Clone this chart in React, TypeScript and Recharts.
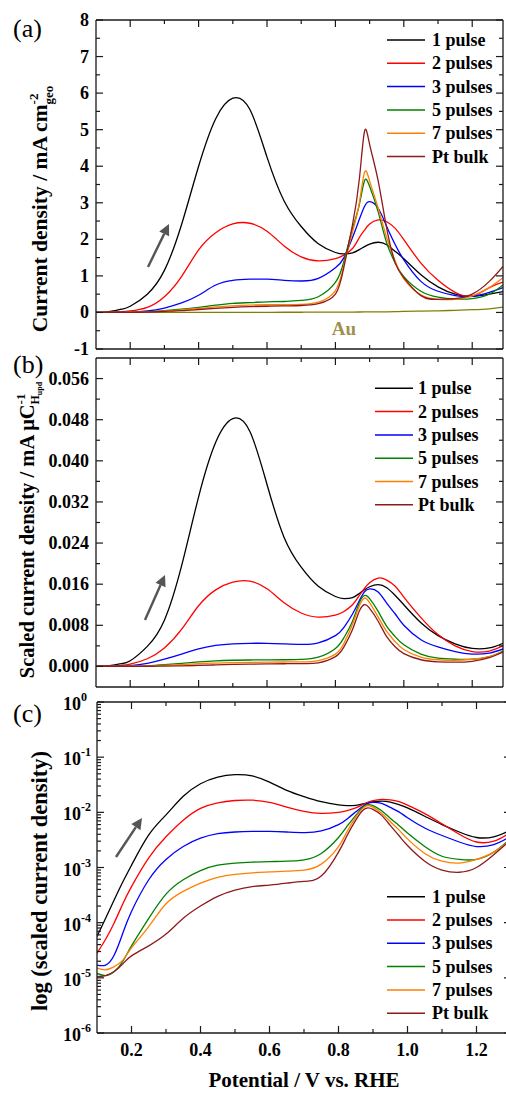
import React from 'react';
import { LineChart, Line, XAxis, YAxis } from 'recharts';

// ---------- data ----------
const potential = [0.10, 0.125, 0.15, 0.175, 0.20, 0.25, 0.30, 0.35, 0.40, 0.45, 0.50, 0.55, 0.60, 0.65, 0.70, 0.75, 0.80, 0.825, 0.85, 0.87, 0.885, 0.90, 0.925, 0.95, 0.975, 1.00, 1.05, 1.10, 1.15, 1.20, 1.25, 1.29];

const seriesNames = ['1 pulse', '2 pulses', '3 pulses', '5 pulses', '7 pulses', 'Pt bulk'];
const seriesColors = ['#000000', '#FF0000', '#0000FF', '#008000', '#FF8000', '#8E1B1B'];

// (a) current density / mA cm-2 geo
const geo1 = [0, 0.01, 0.04, 0.09, 0.17, 0.5, 1.15, 2.4, 4.0, 5.3, 5.86, 5.55, 4.25, 3.05, 2.35, 1.88, 1.64, 1.6, 1.63, 1.72, 1.8, 1.87, 1.92, 1.85, 1.67, 1.47, 1.03, 0.70, 0.50, 0.44, 0.50, 0.57];
const geo2 = [0, 0.003, 0.01, 0.02, 0.04, 0.14, 0.43, 0.98, 1.71, 2.18, 2.42, 2.44, 2.22, 1.82, 1.52, 1.41, 1.47, 1.57, 1.75, 2.05, 2.25, 2.42, 2.53, 2.48, 2.3, 1.99, 1.35, 0.88, 0.55, 0.45, 0.68, 0.83];
const geo3 = [0, 0, 0.003, 0.006, 0.01, 0.04, 0.12, 0.26, 0.47, 0.75, 0.88, 0.91, 0.91, 0.88, 0.86, 0.93, 1.22, 1.5, 2.05, 2.55, 2.9, 3.03, 2.85, 2.35, 1.85, 1.44, 0.85, 0.58, 0.46, 0.44, 0.55, 0.68];
const geo5 = [0, 0, 0, 0.003, 0.006, 0.02, 0.05, 0.09, 0.14, 0.2, 0.25, 0.27, 0.29, 0.3, 0.33, 0.43, 0.82, 1.4, 2.3, 2.95, 3.6, 3.45, 2.75, 1.9, 1.35, 0.98, 0.58, 0.42, 0.37, 0.38, 0.5, 0.75];
const geo7 = [0, 0, 0, 0.002, 0.005, 0.015, 0.04, 0.07, 0.11, 0.15, 0.18, 0.2, 0.21, 0.21, 0.22, 0.28, 0.6, 1.3, 2.2, 3.0, 3.83, 3.6, 2.85, 2.05, 1.4, 0.92, 0.48, 0.36, 0.36, 0.45, 0.68, 0.95];
const geoPt = [0, 0, 0, 0.002, 0.004, 0.012, 0.03, 0.05, 0.08, 0.11, 0.14, 0.16, 0.17, 0.18, 0.19, 0.24, 0.5, 1.25, 2.4, 3.65, 4.95, 4.6, 3.6, 2.3, 1.35, 0.95, 0.46, 0.36, 0.38, 0.5, 0.85, 1.26];
const geoAu = [0, 0, 0, 0, 0, 0, 0, 0, 0, 0, 0.002, 0.003, 0.004, 0.005, 0.006, 0.007, 0.009, 0.01, 0.011, 0.012, 0.013, 0.014, 0.016, 0.018, 0.022, 0.03, 0.036, 0.045, 0.058, 0.075, 0.1, 0.145];

// (b), (c) scaled current density / mA uC-1 H_upd
const sc1 = [5.6e-5, 1.2e-4, 2.6e-4, 5.5e-4, 1.1e-3, 3.9e-3, 9.0e-3, 0.0195, 0.0330, 0.0436, 0.0482, 0.0457, 0.0354, 0.0251, 0.0193, 0.0156, 0.0136, 0.0132, 0.0134, 0.0142, 0.0149, 0.0155, 0.0159, 0.0153, 0.0138, 0.012, 0.0085, 0.006, 0.0044, 0.0035, 0.0036, 0.0045];
const sc2 = [2.8e-5, 5e-5, 1.0e-4, 2.2e-4, 4.5e-4, 1.5e-3, 3.6e-3, 7.2e-3, 0.0118, 0.0149, 0.0164, 0.0166, 0.0151, 0.0124, 0.0104, 0.0096, 0.0100, 0.0107, 0.0120, 0.0138, 0.0152, 0.0163, 0.0172, 0.0168, 0.0156, 0.0135, 0.0095, 0.0062, 0.0040, 0.0029, 0.0030, 0.0040];
const sc3 = [1.7e-5, 1.7e-5, 2.6e-5, 6.5e-5, 1.6e-4, 6e-4, 1.4e-3, 2.4e-3, 3.4e-3, 4.1e-3, 4.4e-3, 4.5e-3, 4.5e-3, 4.4e-3, 4.3e-3, 4.6e-3, 6.0e-3, 7.6e-3, 0.0102, 0.0128, 0.0145, 0.0151, 0.0145, 0.0123, 0.0102, 0.0080, 0.0052, 0.0038, 0.0029, 0.0024, 0.0026, 0.0034];
const sc5 = [1.2e-5, 1.1e-5, 1.3e-5, 2.0e-5, 3.8e-5, 1.2e-4, 3.3e-4, 6.0e-4, 8.8e-4, 1.1e-3, 1.2e-3, 1.25e-3, 1.28e-3, 1.3e-3, 1.38e-3, 1.8e-3, 3.5e-3, 5.6e-3, 8.8e-3, 0.0124, 0.0138, 0.0132, 0.0107, 0.0078, 0.0058, 0.0042, 0.0024, 0.0016, 0.0014, 0.0014, 0.0019, 0.0030];
const sc7 = [1.5e-5, 1.4e-5, 1.6e-5, 2.1e-5, 3.5e-5, 8.5e-5, 2.2e-4, 3.7e-4, 5.2e-4, 6.6e-4, 7.5e-4, 8.0e-4, 8.3e-4, 8.6e-4, 9.0e-4, 1.15e-3, 2.4e-3, 4.5e-3, 8.2e-3, 0.0118, 0.0133, 0.0124, 0.0096, 0.0068, 0.0048, 0.0033, 0.0018, 0.0013, 0.0012, 0.0014, 0.0019, 0.0029];
const scPt = [1.05e-5, 1.1e-5, 1.3e-5, 1.8e-5, 2.5e-5, 3.8e-5, 6.2e-5, 1.2e-4, 2.0e-4, 3.0e-4, 3.9e-4, 4.5e-4, 4.8e-4, 5.2e-4, 5.6e-4, 7.0e-4, 1.9e-3, 3.8e-3, 7.2e-3, 0.0108, 0.012, 0.0113, 0.0088, 0.0058, 0.0038, 0.0025, 0.0013, 0.0009, 0.00082, 0.001, 0.0017, 0.0028];

// ticks
const xMajor = [0.2, 0.4, 0.6, 0.8, 1.0, 1.2];
const xMinor = [0.3, 0.5, 0.7, 0.9, 1.1];
const aMajor = [-1, 0, 1, 2, 3, 4, 5, 6, 7, 8];
const aMinor = [-0.5, 0.5, 1.5, 2.5, 3.5, 4.5, 5.5, 6.5, 7.5];
const bMajor = [0, 0.008, 0.016, 0.024, 0.032, 0.040, 0.048, 0.056];
const bMinor = [0.004, 0.012, 0.020, 0.028, 0.036, 0.044, 0.052];
const cExponents = [0, -1, -2, -3, -4, -5, -6];
const cMinorFactors = [2, 3, 4, 5, 6, 7, 8, 9];

// ---------- helpers ----------
const FONT = '"Liberation Serif", "Times New Roman", serif';
const AX = '#1a1a1a';
const CURVE = 'natural' as const;

const geoRows = potential.map((x, i) => ({ x, s0: geo1[i], s1: geo2[i], s2: geo3[i], s3: geo5[i], s4: geo7[i], s5: geoPt[i], au: geoAu[i] }));
const scRows = potential.map((x, i) => ({ x, s0: sc1[i], s1: sc2[i], s2: sc3[i], s3: sc5[i], s4: sc7[i], s5: scPt[i] }));

const xTicks = [...xMajor, ...xMinor].sort((a, b) => a - b);
const aTicks = [...aMajor, ...aMinor].sort((a, b) => a - b);
const bTicks = [...bMajor, ...bMinor].sort((a, b) => a - b);
const cMajor = cExponents.map((e) => Math.pow(10, e));
const cMinor: number[] = [];
cExponents.forEach((e) => { if (e < 0) cMinorFactors.forEach((f) => cMinor.push(f * Math.pow(10, e))); });
const cTicks = [...cMajor, ...cMinor].sort((a, b) => a - b);

const isIn = (arr: number[], v: number) => arr.some((m) => Math.abs(m - v) <= Math.abs(m) * 1e-6 + 1e-12);

const tickText = { fontFamily: FONT, fontWeight: 'bold' as const, fontSize: 18, fill: '#000' };

const bottomTick = (showLabel: boolean) => (p: any) => {
  const v = p.payload.value;
  const major = isIn(xMajor, v);
  return (
    <g>
      <line x1={p.x} y1={p.y} x2={p.x} y2={p.y - (major ? 7 : 4)} stroke={AX} strokeWidth={1.2} />
      {showLabel && major ? (
        <text x={p.x} y={p.y + 23} textAnchor="middle" {...tickText}>{v.toFixed(1)}</text>
      ) : null}
    </g>
  );
};
const topTick = (p: any) => {
  const major = isIn(xMajor, p.payload.value);
  return <line x1={p.x} y1={p.y} x2={p.x} y2={p.y + (major ? 7 : 4)} stroke={AX} strokeWidth={1.2} />;
};
const leftTick = (majors: number[], fmt: (v: number) => string) => (p: any) => {
  const v = p.payload.value;
  const major = isIn(majors, v);
  return (
    <g>
      <line x1={p.x} y1={p.y} x2={p.x + (major ? 7 : 4)} y2={p.y} stroke={AX} strokeWidth={1.2} />
      {major ? <text x={p.x - 7} y={p.y + 6} textAnchor="end" {...tickText}>{fmt(v)}</text> : null}
    </g>
  );
};
const rightTick = (majors: number[]) => (p: any) => {
  const major = isIn(majors, p.payload.value);
  return <line x1={p.x} y1={p.y} x2={p.x - (major ? 7 : 4)} y2={p.y} stroke={AX} strokeWidth={1.2} />;
};
const logLeftTick = (p: any) => {
  const v = p.payload.value;
  const major = isIn(cMajor, v);
  const e = Math.round(Math.log10(v));
  return (
    <g>
      <line x1={p.x} y1={p.y} x2={p.x + (major ? 7 : 4)} y2={p.y} stroke={AX} strokeWidth={1.2} />
      {major ? (
        <text x={63} y={p.y + 8} textAnchor="start" {...tickText}>
          10<tspan dy={-9} fontSize={12}>{String(e)}</tspan>
        </text>
      ) : null}
    </g>
  );
};

const axisLine = { stroke: AX, strokeWidth: 1.3 };

function seriesLines(withAu: boolean) {
  const lines = seriesNames.map((n, i) => (
    <Line key={n} name={n} dataKey={'s' + i} type={CURVE} stroke={seriesColors[i]} strokeWidth={1.3} dot={false} activeDot={false} isAnimationActive={false} />
  ));
  if (withAu) {
    lines.unshift(<Line key="au" name="Au" dataKey="au" type={CURVE} stroke="#808000" strokeWidth={1.3} dot={false} activeDot={false} isAnimationActive={false} />);
  }
  return lines;
}

function Legend({ x1, x2, tx, y0 }: { x1: number; x2: number; tx: number; y0: number }) {
  return (
    <g>
      {seriesNames.map((n, i) => {
        const y = y0 + i * 23.3;
        return (
          <g key={n}>
            <line x1={x1} y1={y} x2={x2} y2={y} stroke={seriesColors[i]} strokeWidth={1.5} />
            <text x={tx} y={y + 6} fontFamily={FONT} fontWeight="bold" fontSize={18} fill="#000">{n}</text>
          </g>
        );
      })}
    </g>
  );
}

function Arrow({ x1, y1, x2, y2 }: { x1: number; y1: number; x2: number; y2: number }) {
  const dx = x2 - x1, dy = y2 - y1;
  const len = Math.sqrt(dx * dx + dy * dy);
  const ux = dx / len, uy = dy / len;
  const hl = 11, hw = 5.5;
  const bx = x2 - ux * hl, by = y2 - uy * hl;
  const pts = `${x2},${y2} ${bx - uy * hw},${by + ux * hw} ${bx + uy * hw},${by - ux * hw}`;
  return (
    <g>
      <line x1={x1} y1={y1} x2={bx} y2={by} stroke="#555" strokeWidth={2.4} />
      <polygon points={pts} fill="#555" />
    </g>
  );
}

export default function App() {
  return (
    <div style={{ position: 'fixed', left: 0, top: 0, width: 506, height: 1093, overflow: 'hidden', background: '#fff' }}>
      {/* (a) */}
      <div style={{ position: 'absolute', left: 0, top: 0 }}>
        <LineChart width={506} height={360} data={geoRows} margin={{ top: 19, right: 2, bottom: 10, left: 95 }}>
          <XAxis xAxisId={0} dataKey="x" type="number" domain={[0.1, 1.29]} allowDataOverflow ticks={xTicks} interval={0} height={1} tickSize={0} tickMargin={0} tickLine={false} axisLine={axisLine} tick={bottomTick(false)} />
          <XAxis xAxisId="top" orientation="top" dataKey="x" type="number" domain={[0.1, 1.29]} allowDataOverflow ticks={xTicks} interval={0} height={1} tickSize={0} tickMargin={0} tickLine={false} axisLine={axisLine} tick={topTick} />
          <YAxis yAxisId={0} type="number" domain={[-1, 8]} allowDataOverflow ticks={aTicks} interval={0} width={1} tickSize={0} tickMargin={0} tickLine={false} axisLine={axisLine} tick={leftTick(aMajor, (v) => String(v))} />
          <YAxis yAxisId="right" orientation="right" type="number" domain={[-1, 8]} allowDataOverflow ticks={aTicks} interval={0} width={1} tickSize={0} tickMargin={0} tickLine={false} axisLine={axisLine} tick={rightTick(aMajor)} />
          {seriesLines(true)}
        </LineChart>
      </div>
      {/* (b) */}
      <div style={{ position: 'absolute', left: 0, top: 350 }}>
        <LineChart width={506} height={350} data={scRows} margin={{ top: 7, right: 2, bottom: 12, left: 95 }}>
          <XAxis xAxisId={0} dataKey="x" type="number" domain={[0.1, 1.29]} allowDataOverflow ticks={xTicks} interval={0} height={1} tickSize={0} tickMargin={0} tickLine={false} axisLine={axisLine} tick={bottomTick(false)} />
          <XAxis xAxisId="top" orientation="top" dataKey="x" type="number" domain={[0.1, 1.29]} allowDataOverflow ticks={xTicks} interval={0} height={1} tickSize={0} tickMargin={0} tickLine={false} axisLine={axisLine} tick={topTick} />
          <YAxis yAxisId={0} type="number" domain={[-0.004, 0.06]} allowDataOverflow ticks={bTicks} interval={0} width={1} tickSize={0} tickMargin={0} tickLine={false} axisLine={axisLine} tick={leftTick(bMajor, (v) => v.toFixed(3))} />
          <YAxis yAxisId="right" orientation="right" type="number" domain={[-0.004, 0.06]} allowDataOverflow ticks={bTicks} interval={0} width={1} tickSize={0} tickMargin={0} tickLine={false} axisLine={axisLine} tick={rightTick(bMajor)} />
          {seriesLines(false)}
        </LineChart>
      </div>
      {/* (c) */}
      <div style={{ position: 'absolute', left: 0, top: 690 }}>
        <LineChart width={516} height={403} data={scRows} margin={{ top: 11, right: 4, bottom: 59, left: 96 }}>
          <XAxis xAxisId={0} dataKey="x" type="number" domain={[0.1, 1.3]} allowDataOverflow ticks={xTicks} interval={0} height={1} tickSize={0} tickMargin={0} tickLine={false} axisLine={axisLine} tick={bottomTick(true)} />
          <XAxis xAxisId="top" orientation="top" dataKey="x" type="number" domain={[0.1, 1.3]} allowDataOverflow ticks={xTicks} interval={0} height={1} tickSize={0} tickMargin={0} tickLine={false} axisLine={axisLine} tick={topTick} />
          <YAxis yAxisId={0} type="number" scale="log" domain={[1e-6, 1]} allowDataOverflow ticks={cTicks} interval={0} width={1} tickSize={0} tickMargin={0} tickLine={false} axisLine={axisLine} tick={logLeftTick} />
          <YAxis yAxisId="right" orientation="right" type="number" scale="log" domain={[1e-6, 1]} allowDataOverflow ticks={cTicks} interval={0} width={1} tickSize={0} tickMargin={0} tickLine={false} axisLine={axisLine} tick={rightTick(cMajor)} />
          {seriesLines(false)}
        </LineChart>
      </div>
      {/* annotations */}
      <svg width={506} height={1093} style={{ position: 'absolute', left: 0, top: 0, pointerEvents: 'none' }}>
        <g fontFamily={FONT}>
          <text x={13} y={37} fontSize={26}>(a)</text>
          <text x={13} y={373} fontSize={26}>(b)</text>
          <text x={13} y={722} fontSize={26}>(c)</text>

          <text transform="translate(47,209) rotate(-90)" textAnchor="middle" fontSize={21.5} fontWeight="bold">
            Current density / mA cm<tspan dy={-9} fontSize={13}>-2</tspan><tspan dx={-11} dy={15} fontSize={13}>geo</tspan>
          </text>
          <text transform="translate(34,530) rotate(-90)" textAnchor="middle" fontSize={20.5} fontWeight="bold">
            Scaled current density / mA μC<tspan dy={-9} fontSize={13}>-1</tspan><tspan dx={-11} dy={14} fontSize={12}>H</tspan><tspan dy={3} fontSize={8}>upd</tspan>
          </text>
          <text transform="translate(47,881) rotate(-90)" textAnchor="middle" fontSize={22.5} fontWeight="bold">
            log (scaled current density)
          </text>
          <text x={304} y={1087} textAnchor="middle" fontSize={21} fontWeight="bold">Potential / V vs. RHE</text>

          <text x={344} y={335} textAnchor="middle" fontSize={19} fontWeight="bold" fill="#A0904F">Au</text>
        </g>
        <Legend x1={387} x2={425} tx={432} y0={40} />
        <Legend x1={375} x2={413} tx={418} y0={388.3} />
        <Legend x1={387} x2={425} tx={432} y0={896.7} />
        <Arrow x1={148} y1={267} x2={169} y2={224} />
        <Arrow x1={145} y1={620} x2={165} y2={575} />
        <Arrow x1={116} y1={857} x2={142} y2={818} />
      </svg>
    </div>
  );
}
